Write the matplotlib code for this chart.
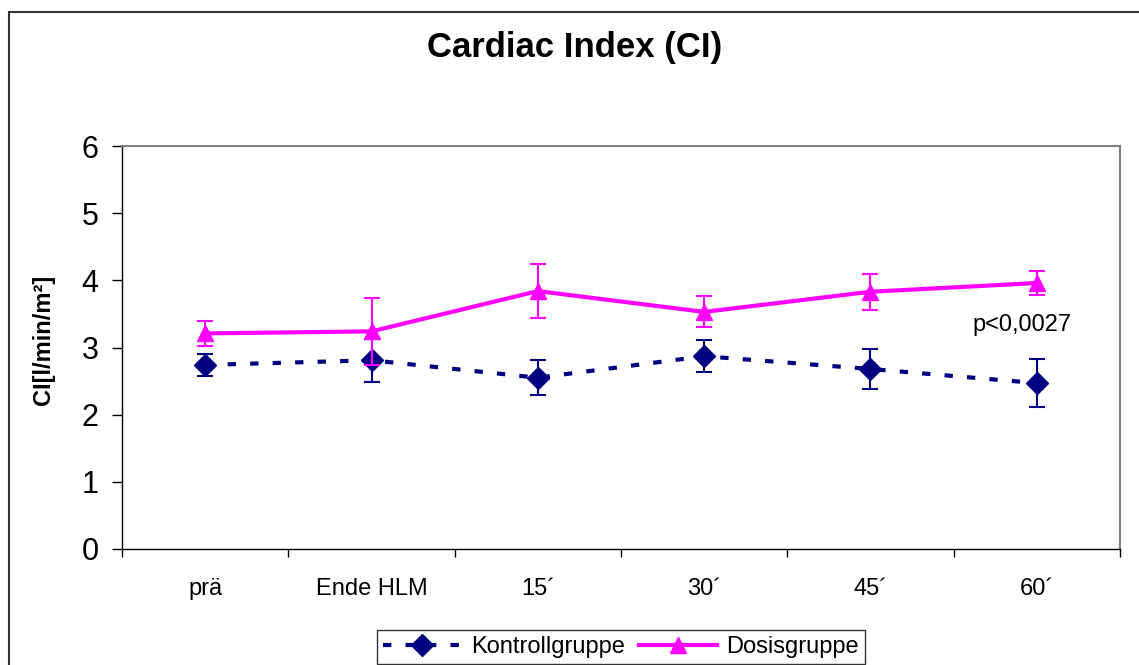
import numpy as np
import matplotlib
matplotlib.use("Agg")
import matplotlib.pyplot as plt
from matplotlib.patches import Rectangle
from matplotlib.lines import Line2D

plt.rcParams['font.family'] = ['Liberation Sans', 'DejaVu Sans']

categories = ["prä", "Ende HLM", "15´", "30´", "45´", "60´"]

# Kontrollgruppe: mean and SD
kontroll = [2.74, 2.81, 2.55, 2.87, 2.68, 2.47]
kontroll_err = [0.16, 0.32, 0.26, 0.24, 0.30, 0.36]

# Dosisgruppe: mean and SD
dosis = [3.21, 3.24, 3.84, 3.53, 3.83, 3.96]
dosis_err = [0.19, 0.50, 0.40, 0.23, 0.27, 0.18]

navy = "#000080"
magenta = "#FF00FF"
dash = [2.0, 3.4]

fig = plt.figure(figsize=(11.39, 6.65), dpi=100)
ax = fig.add_axes([122/1139, 1 - 549/665, (1120 - 122)/1139, (549 - 146)/665])

x = np.arange(len(categories))

k = ax.errorbar(x, kontroll, yerr=kontroll_err, color=navy, lw=3,
                marker="D", markersize=11, ecolor=navy, elinewidth=1.5,
                capsize=6, capthick=1.5, zorder=3)
k[0].set_dashes(dash)

d = ax.errorbar(x, dosis, yerr=dosis_err, color=magenta, lw=3,
                marker="^", markersize=12, ecolor=magenta, elinewidth=1.5,
                capsize=6, capthick=1.5, zorder=4)

ax.set_xlim(-0.5, len(categories) - 0.5)
ax.set_ylim(0, 6)
ax.set_yticks(range(0, 7))
ax.tick_params(axis="y", labelsize=22, length=7, width=1, pad=10, direction="out")

# ticks between categories, labels at the centres
ax.set_xticks(np.arange(-0.5, len(categories)), minor=False)
ax.set_xticklabels([])
ax.set_xticks(x, minor=True)
ax.set_xticklabels(categories, minor=True)
ax.tick_params(axis="x", which="major", length=6, width=1, direction="out")
ax.tick_params(axis="x", which="minor", length=0, labelsize=17, pad=21)

for side in ["top", "right"]:
    ax.spines[side].set_color("#808080")
    ax.spines[side].set_linewidth(1.5)
for side in ["left", "bottom"]:
    ax.spines[side].set_color("black")
    ax.spines[side].set_linewidth(1)

ax.text(4.91, 3.335, "p<0,0027", fontsize=17, ha="center", va="center")

fig.text(575/1139, 1 - 57/665, "Cardiac Index (CI)", fontsize=25,
         fontweight="bold", ha="center", va="baseline")
fig.text(43/1139, 1 - 340/665, "CI[l/min/m²]", fontsize=17, fontweight="bold",
         rotation=90, ha="center", va="center")

h1 = Line2D([], [], color=navy, lw=3, marker="D", markersize=11)
h1.set_dashes(dash)
h2 = Line2D([], [], color=magenta, lw=3, marker="^", markersize=12)
leg = fig.legend(handles=[h1, h2], labels=["Kontrollgruppe", "Dosisgruppe"],
                 loc="upper center", bbox_to_anchor=(621/1139, 1 - 630/665),
                 ncol=2, fontsize=17, frameon=True, fancybox=False,
                 handlelength=3.3, handletextpad=0.4, columnspacing=0.6,
                 borderpad=0.25, borderaxespad=0)
leg.get_frame().set_edgecolor("black")
leg.get_frame().set_linewidth(1)

# outer chart border
fig.patches.append(Rectangle((9/1139, -0.1), 1.2, 1.1 - 12/665,
                             transform=fig.transFigure, fill=False,
                             edgecolor="#333333", lw=1.5))

fig.savefig("out.png", dpi=100)
